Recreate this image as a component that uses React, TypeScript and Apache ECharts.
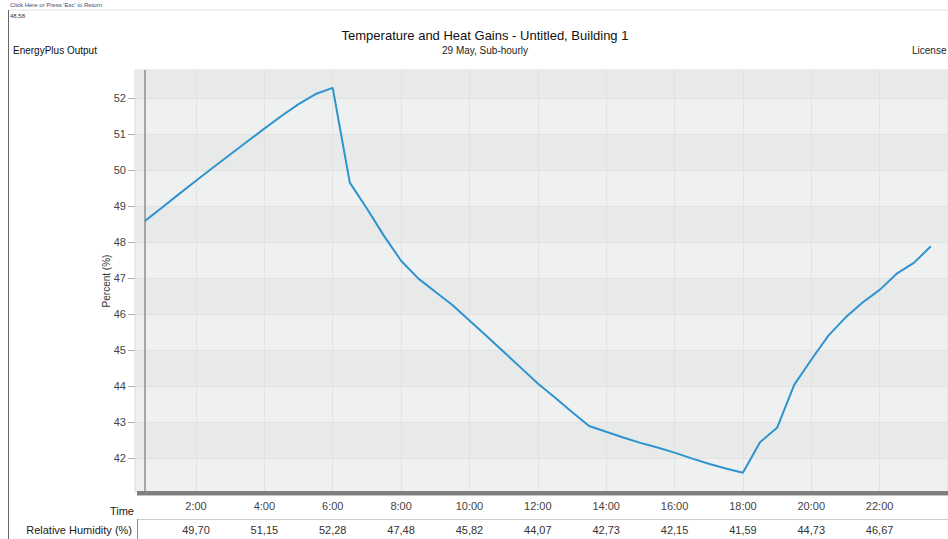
import React, { useEffect, useRef } from "react";
import * as echarts from "echarts";

// ---------- data ----------
const hours = [
  0.5, 1, 1.5, 2, 2.5, 3, 3.5, 4, 4.5, 5, 5.5, 6,
  6.5, 7, 7.5, 8, 8.5, 9, 9.5, 10, 10.5, 11, 11.5, 12,
  12.5, 13, 13.5, 14, 14.5, 15, 15.5, 16, 16.5, 17, 17.5, 18,
  18.5, 19, 19.5, 20, 20.5, 21, 21.5, 22, 22.5, 23, 23.5,
];
const relativeHumidity = [
  48.58, 48.95, 49.33, 49.7, 50.07, 50.43, 50.79, 51.15, 51.5, 51.83, 52.11, 52.28,
  49.65, 48.93, 48.17, 47.48, 46.99, 46.62, 46.25, 45.82, 45.39, 44.95, 44.51, 44.07,
  43.68, 43.28, 42.89, 42.73, 42.57, 42.42, 42.29, 42.15, 41.99, 41.84, 41.71, 41.59,
  42.44, 42.84, 44.03, 44.73, 45.4, 45.9, 46.32, 46.67, 47.12, 47.42, 47.88,
];
const xTickHours = [2, 4, 6, 8, 10, 12, 14, 16, 18, 20, 22];
const yTicks = [42, 43, 44, 45, 46, 47, 48, 49, 50, 51, 52];

const chartTitle = "Temperature and Heat Gains - Untitled, Building 1";
const chartSubtitle = "29 May, Sub-hourly";
const seriesName = "Relative Humidity (%)";
const yAxisName = "Percent (%)";
const hoverValue = "48,58";

// ---------- layout ----------
const W = 948;
const H = 539;
const FONT = "'Liberation Sans', Arial, sans-serif";
const GRID_LEFT = 135;
const GRID_TOP = 70;
const GRID_BOTTOM_Y = 492;
const X_ZERO_PX = 127.5;
const PX_PER_HOUR = 34.75;
const X_MIN = (GRID_LEFT - X_ZERO_PX) / PX_PER_HOUR;
const X_MAX = 24;
const GRID_RIGHT = W - (X_ZERO_PX + PX_PER_HOUR * X_MAX);
const Y_MIN = 41.0556;
const Y_MAX = 52.7778;
const WALL_X = 145;

const fmtComma = (v: number) => v.toFixed(2).replace(".", ",");
const valueAt = (h: number) => relativeHumidity[hours.indexOf(h)];

const darkBands = yTicks
  .filter((v) => v % 2 === 0)
  .map((v) => [{ yAxis: v }, { yAxis: Math.min(v + 1, Y_MAX) }]);

function txt(text: string, x: number, y: number, size: number, color: string, align = "left", weight = "normal") {
  return {
    type: "text",
    x,
    y,
    z: 20,
    silent: true,
    style: {
      text,
      fill: color,
      font: `${weight} ${size}px ${FONT}`,
      align,
      textAlign: align,
      verticalAlign: "middle",
      textVerticalAlign: "middle",
    },
  };
}

export default function App() {
  const ref = useRef<HTMLDivElement>(null);
  useEffect(() => {
    if (!ref.current) return;
    const chart = echarts.init(ref.current, null, { renderer: "svg" });
    const option: any = {
      animation: false,
      backgroundColor: "#ffffff",
      textStyle: { fontFamily: FONT },
      grid: {
        left: GRID_LEFT,
        top: GRID_TOP,
        right: GRID_RIGHT,
        bottom: H - GRID_BOTTOM_Y,
        show: true,
        backgroundColor: "#eff1f1",
        borderColor: "#d9d9d9",
        borderWidth: 1,
      },
      xAxis: [
        {
          type: "value",
          min: X_MIN,
          max: X_MAX,
          axisLine: { show: false },
          axisTick: { show: false },
          splitLine: { show: false },
          axisLabel: {
            customValues: xTickHours,
            formatter: (v: number) => `${v}:00`,
            color: "#444",
            fontSize: 11,
            margin: 8,
            fontFamily: FONT,
          },
        },
        {
          type: "value",
          min: X_MIN,
          max: X_MAX,
          position: "bottom",
          offset: 24,
          axisLine: { show: false },
          axisTick: { show: false },
          splitLine: { show: false },
          axisLabel: {
            customValues: xTickHours,
            formatter: (v: number) => fmtComma(valueAt(v)),
            color: "#333",
            fontSize: 11,
            margin: 8,
            fontFamily: FONT,
          },
        },
      ],
      yAxis: {
        type: "value",
        min: Y_MIN,
        max: Y_MAX,
        name: yAxisName,
        nameLocation: "middle",
        nameGap: 24,
        nameMoveOverlap: false,
        nameRotate: 90,
        nameTextStyle: { color: "#333", fontSize: 10, fontFamily: FONT },
        axisLine: { show: false },
        axisTick: {
          show: true,
          customValues: yTicks,
          length: 7,
          lineStyle: { color: "#b0b0b0" },
        },
        splitLine: { show: false },
        axisLabel: {
          customValues: yTicks,
          color: "#444",
          fontSize: 11,
          margin: 9,
          fontFamily: FONT,
        },
      },
      series: [
        {
          type: "line",
          name: "bands",
          data: [],
          z: 1,
          silent: true,
          markArea: {
            silent: true,
            itemStyle: { color: "#e8eaea" },
            data: darkBands,
          },
          markLine: {
            silent: true,
            symbol: ["none", "none"],
            label: { show: false },
            lineStyle: { color: "#e1e3e3", type: "solid", width: 1 },
            data: [
              ...xTickHours.map((v) => ({ xAxis: v })),
              ...yTicks.map((v) => ({ yAxis: v })),
            ],
          },
        },
        {
          type: "line",
          name: seriesName,
          z: 5,
          data: hours.map((h, i) => [h, relativeHumidity[i]]),
          showSymbol: false,
          symbol: "none",
          lineStyle: { color: "#2e93cf", width: 2 },
          itemStyle: { color: "#2e93cf" },
        },
      ],
      graphic: [
        // window frame
        { type: "line", z: 20, silent: true, shape: { x1: 8, y1: 10, x2: W, y2: 10 }, style: { stroke: "#e2e2e2", lineWidth: 1 } },
        { type: "line", z: 20, silent: true, shape: { x1: 8.5, y1: 10, x2: 8.5, y2: H }, style: { stroke: "#666", lineWidth: 1 } },
        // 3D wall + floor
        { type: "line", z: 20, silent: true, shape: { x1: WALL_X, y1: GRID_TOP, x2: WALL_X, y2: GRID_BOTTOM_Y }, style: { stroke: "#8e8e8e", lineWidth: 1.5 } },
        { type: "rect", z: 20, silent: true, shape: { x: 137, y: GRID_BOTTOM_Y - 1, width: W - 137, height: 4 }, style: { fill: "#7f7f7f" } },
        { type: "rect", z: 20, silent: true, shape: { x: 137, y: GRID_BOTTOM_Y + 3, width: W - 137, height: 1 }, style: { fill: "#c4c4c4" } },
        // table box
        { type: "line", z: 20, silent: true, shape: { x1: 137, y1: 519.5, x2: W, y2: 519.5 }, style: { stroke: "#cfcfcf", lineWidth: 1 } },
        { type: "line", z: 20, silent: true, shape: { x1: 137.5, y1: 519, x2: 137.5, y2: H }, style: { stroke: "#8a8a8a", lineWidth: 1 } },
        // texts
        txt("Click Here or Press 'Esc' to Return", 10, 5, 6, "#3b4a7a"),
        txt(hoverValue, 10, 16, 6, "#333"),
        txt("EnergyPlus Output", 13, 50, 10, "#111"),
        txt(chartTitle, 485, 35, 13, "#111", "center"),
        txt(chartSubtitle, 485, 50, 10, "#222", "center"),
        txt("License", 912, 50, 10, "#222"),
        txt("Time", 134, 511, 11, "#222", "right"),
        txt(seriesName, 132, 530, 11, "#222", "right"),
      ],
    };
    chart.setOption(option);
    return () => chart.dispose();
  }, []);
  return (
    <div
      ref={ref}
      style={{ position: "fixed", left: 0, top: 0, width: W, height: H, background: "#fff" }}
    />
  );
}
